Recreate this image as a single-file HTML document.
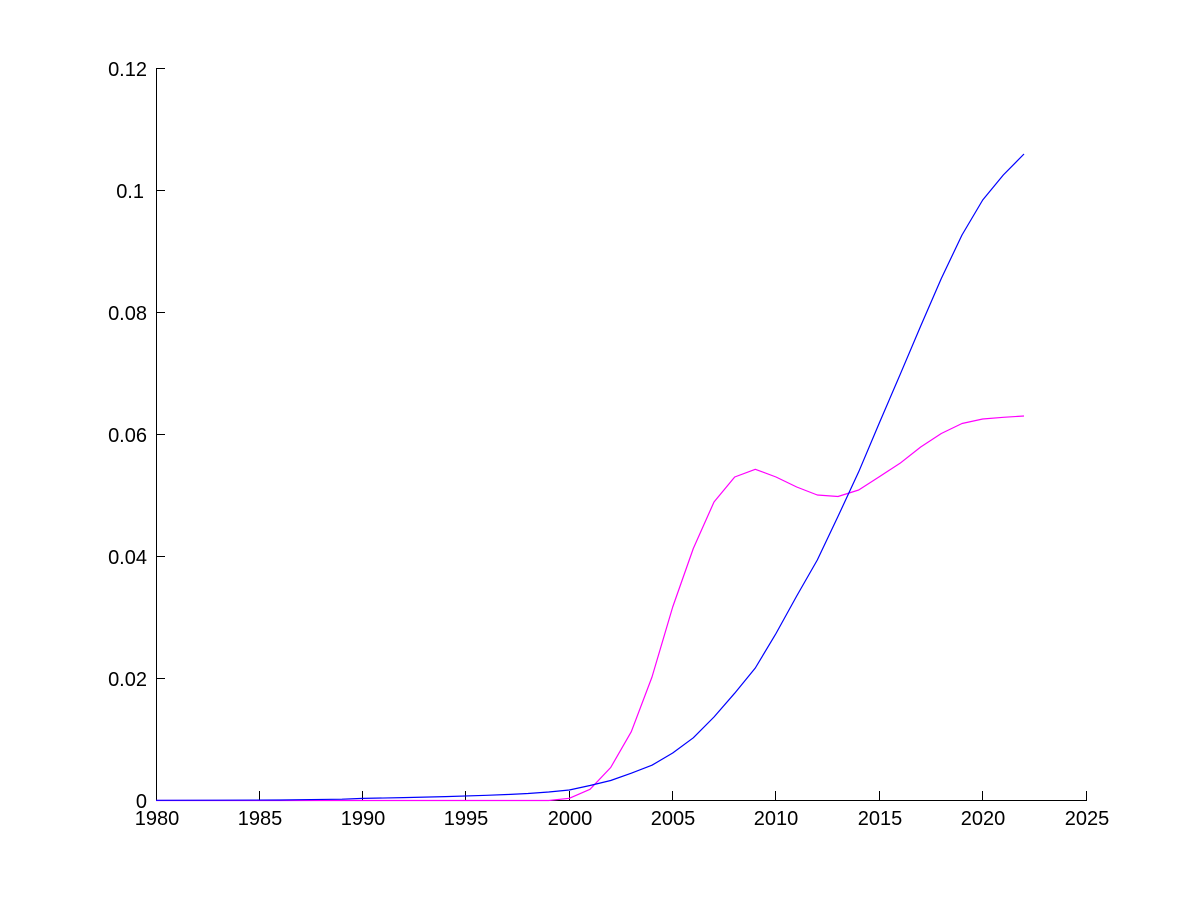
<!DOCTYPE html>
<html>
<head>
<meta charset="utf-8">
<style>
  html, body { margin: 0; padding: 0; background: #ffffff; }
  svg { display: block; }
  text { font-family: "Liberation Sans", Arial, sans-serif; font-size: 20px; fill: #000; }
</style>
</head>
<body>
<svg width="1200" height="900" viewBox="0 0 1200 900" xmlns="http://www.w3.org/2000/svg">
  <rect x="0" y="0" width="1200" height="900" fill="#ffffff"/>

  <!-- axes -->
  <g stroke="#000" stroke-width="1" shape-rendering="crispEdges" fill="none">
    <line x1="156.5" y1="68" x2="156.5" y2="801"/>
    <line x1="156" y1="800.5" x2="1087" y2="800.5"/>
    <!-- y ticks -->
    <line x1="156" y1="68.5" x2="165" y2="68.5"/>
    <line x1="156" y1="190.5" x2="165" y2="190.5"/>
    <line x1="156" y1="312.5" x2="165" y2="312.5"/>
    <line x1="156" y1="434.5" x2="165" y2="434.5"/>
    <line x1="156" y1="556.5" x2="165" y2="556.5"/>
    <line x1="156" y1="678.5" x2="165" y2="678.5"/>
    <!-- x ticks -->
    <line x1="259.5" y1="791" x2="259.5" y2="800"/>
    <line x1="362.5" y1="791" x2="362.5" y2="800"/>
    <line x1="465.5" y1="791" x2="465.5" y2="800"/>
    <line x1="569.5" y1="791" x2="569.5" y2="800"/>
    <line x1="672.5" y1="791" x2="672.5" y2="800"/>
    <line x1="775.5" y1="791" x2="775.5" y2="800"/>
    <line x1="879.5" y1="791" x2="879.5" y2="800"/>
    <line x1="982.5" y1="791" x2="982.5" y2="800"/>
    <line x1="1086.5" y1="791" x2="1086.5" y2="800"/>
  </g>

  <!-- y labels -->
  <g text-anchor="end">
    <text x="147" y="76">0.12</text>
    <text x="144" y="198">0.1</text>
    <text x="147" y="320">0.08</text>
    <text x="147" y="442">0.06</text>
    <text x="147" y="564">0.04</text>
    <text x="147" y="686">0.02</text>
    <text x="147" y="808">0</text>
  </g>

  <!-- x labels -->
  <g text-anchor="middle">
    <text x="157" y="825">1980</text>
    <text x="260" y="825">1985</text>
    <text x="363" y="825">1990</text>
    <text x="466" y="825">1995</text>
    <text x="570" y="825">2000</text>
    <text x="673" y="825">2005</text>
    <text x="776" y="825">2010</text>
    <text x="880" y="825">2015</text>
    <text x="983" y="825">2020</text>
    <text x="1087" y="825">2025</text>
  </g>

  <!-- magenta series -->
  <polyline fill="none" stroke="#ff00ff" stroke-width="1.2" stroke-linejoin="round"
    points="156,800.5 290,800.5 548.7,800.5 569.3,798.3 590,789.3 610.7,767.5 631.3,731.7 652,677 672.7,607 693.3,548.5 714,502 734.7,477 755.3,469.3 776,477 796.7,487 817.3,495 838,496.5 858.7,490 879.3,476.7 900,463.3 920.7,447 941.3,433.5 962,423.5 982.7,419 1003.3,417.3 1024,416"/>

  <!-- blue series -->
  <polyline fill="none" stroke="#0000ff" stroke-width="1.2" stroke-linejoin="round"
    points="156,800.3 218,800.2 280,800 300.7,799.7 342,799.2 362.7,798.4 403.3,797.6 445.3,796.6 486.7,795.3 507.3,794.5 528,793.5 548.7,792 569.3,790 590,785.5 610.7,780.5 631.3,773.2 652,765.2 672.7,753 693.3,737.8 714,717 734.7,693.2 755.3,668 776,633.5 796.7,596 817.3,560 838,516.4 858.7,471.8 879.3,423 900,374.8 920.7,326 941.3,278.5 962,235 982.7,200 1003.3,175 1024,154"/>
</svg>
</body>
</html>
